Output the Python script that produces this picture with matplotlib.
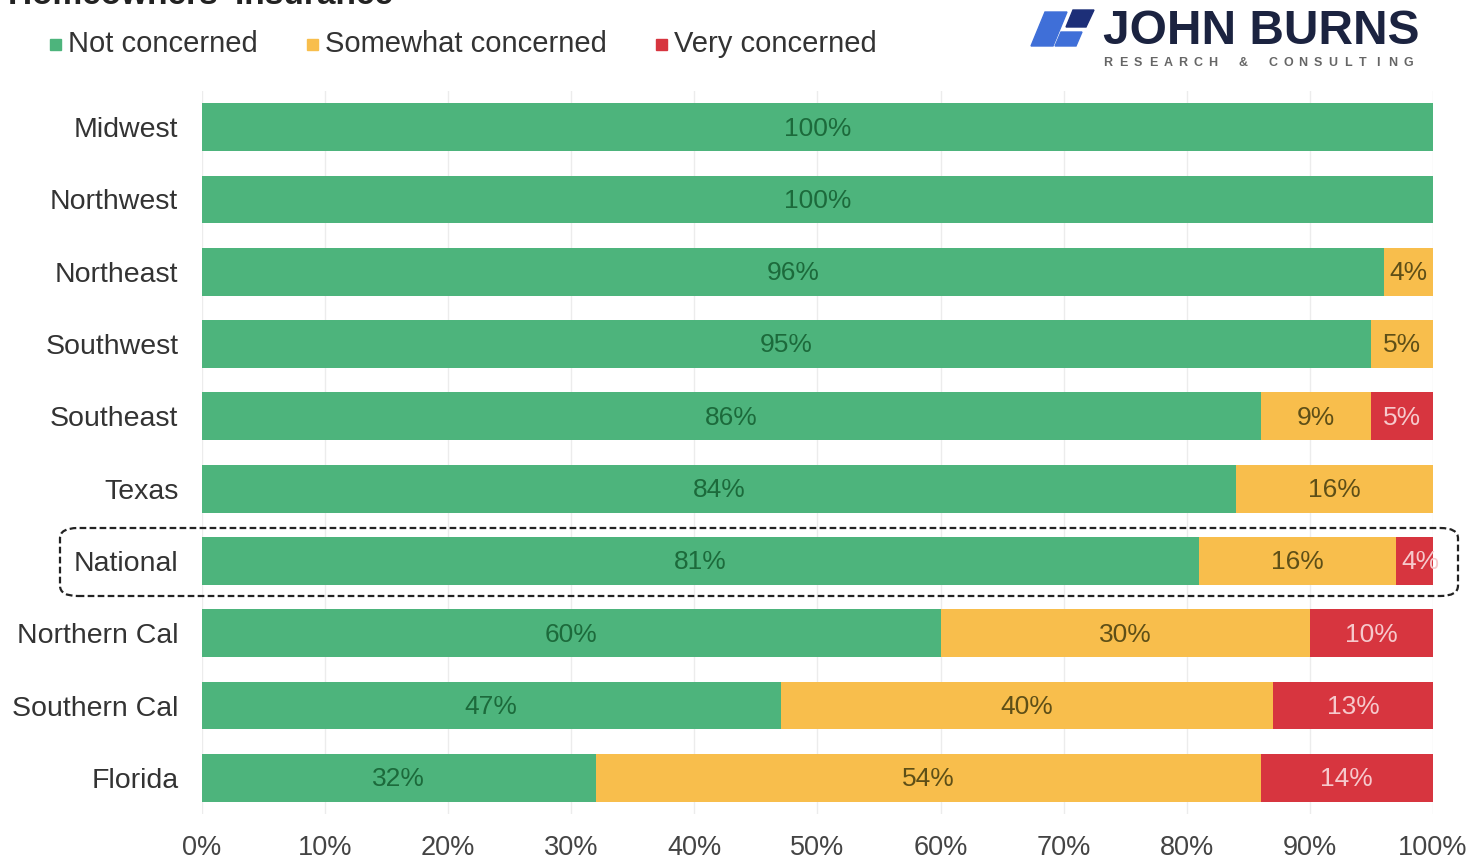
import numpy as np
import matplotlib.pyplot as plt
from matplotlib.patches import FancyBboxPatch, Polygon

plt.rcParams['font.family'] = ['Liberation Sans', 'DejaVu Sans']

regions = ['Midwest', 'Northwest', 'Northeast', 'Southwest', 'Southeast',
           'Texas', 'National', 'Northern Cal', 'Southern Cal', 'Florida']
not_concerned = [100, 100, 96, 95, 86, 84, 81, 60, 47, 32]
somewhat_concerned = [0, 0, 4, 5, 9, 16, 16, 30, 40, 54]
very_concerned = [0, 0, 0, 0, 5, 0, 4, 10, 13, 14]
series_names = ['Not concerned', 'Somewhat concerned', 'Very concerned']
x_ticks = [0, 10, 20, 30, 40, 50, 60, 70, 80, 90, 100]

bar_colors = ['#4db47c', '#f8be4c', '#d7353f']
text_colors = ['#1c6a3b', '#5e4f17', '#f6c9cc']

W, H = 1473, 861
fig = plt.figure(figsize=(W / 100, H / 100), dpi=100)
ax = fig.add_axes([0.1371, 0.0546, 0.8357, 0.8397])

y = np.arange(len(regions))
left = np.zeros(len(regions))
for vals, color, tcol in zip([not_concerned, somewhat_concerned, very_concerned],
                             bar_colors, text_colors):
    vals = np.array(vals, dtype=float)
    ax.barh(y, vals, left=left, height=0.66, color=color, zorder=2)
    for yi, (l, v) in enumerate(zip(left, vals)):
        if v > 0:
            ax.text(l + v / 2, yi + 0.02, f'{int(v)}%', ha='center', va='center',
                    fontsize=19, color=tcol, zorder=3)
    left += vals

ax.set_xlim(0, 100)
ax.set_ylim(len(regions) - 0.5, -0.5)
ax.set_xticks(x_ticks)
ax.set_xticklabels([f'{t}%' for t in x_ticks], fontsize=19.5, color='#444444')
ax.set_yticks(y)
ax.set_yticklabels(regions, fontsize=20.5, color='#333333')
ax.tick_params(axis='x', length=0, pad=15)
ax.tick_params(axis='y', length=0, pad=17)
ax.grid(axis='x', color='#ececec', linewidth=1, zorder=0)
for s in ax.spines.values():
    s.set_visible(False)

# dashed frame around the national row
box = FancyBboxPatch((60 / W, 1 - 596 / H), 1398 / W, 68 / H,
                     boxstyle='round,pad=0,rounding_size=0.012',
                     transform=fig.transFigure, fill=False,
                     linestyle=(0, (3, 1.5)), linewidth=1.6,
                     edgecolor='#222222', zorder=5)
fig.patches.append(box)

# title (runs off the top edge)
fig.text(8 / W, 1 - 4 / H, "Homeowners' Insurance", fontsize=24,
         fontweight='bold', color='#222222', ha='left', va='baseline')

# legend
legend_x = [50, 307, 656]
for lx, name, color in zip(legend_x, series_names, bar_colors):
    fig.patches.append(plt.Rectangle((lx / W, 1 - 50 / H), 11 / W, 11 / H,
                                     transform=fig.transFigure, color=color))
    fig.text((lx + 18) / W, 1 - 44 / H, name, fontsize=21,
             color='#333333', ha='left', va='center')

# logo
navy = '#1b2340'
fig.text(1103 / W, 1 - 31 / H, 'JOHN BURNS', fontsize=34.5, fontweight='bold',
         color=navy, ha='left', va='center')
sub = 'RESEARCH & CONSULTING'
for i, ch in enumerate(sub):
    fig.text((1108 + i * 15.0) / W, 1 - 63 / H, ch, fontsize=9,
             fontweight='bold', color='#666666', ha='center', va='center')
shapes = [
    ([(1045, 12), (1067, 12), (1053, 46), (1031, 46)], '#3f6fd8'),
    ([(1073, 10), (1094, 10), (1086, 27), (1066, 27)], '#1d2f78'),
    ([(1061, 32), (1082, 32), (1076, 46), (1055, 46)], '#3f6fd8'),
]
for pts, color in shapes:
    fig.patches.append(Polygon([(px / W, 1 - py / H) for px, py in pts],
                               closed=True, transform=fig.transFigure,
                               color=color))

fig.savefig('out.png', dpi=100, facecolor='white')
